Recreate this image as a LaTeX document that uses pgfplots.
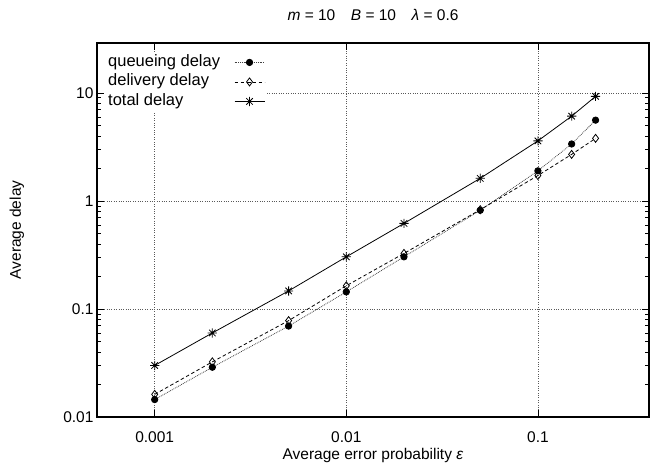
\documentclass[border=0pt]{standalone}
\usepackage{pgfplots}
\pgfplotsset{compat=1.18}
\usepackage{fontspec}
\setmainfont{Liberation Sans}

% gnuplot style point type 3: plus and cross together
\pgfdeclareplotmark{gpstar}{%
  \pgfpathmoveto{\pgfqpoint{0pt}{\pgfplotmarksize}}%
  \pgfpathlineto{\pgfqpoint{0pt}{-\pgfplotmarksize}}%
  \pgfpathmoveto{\pgfqpoint{\pgfplotmarksize}{0pt}}%
  \pgfpathlineto{\pgfqpoint{-\pgfplotmarksize}{0pt}}%
  \pgfpathmoveto{\pgfqpoint{0.7071\pgfplotmarksize}{0.7071\pgfplotmarksize}}%
  \pgfpathlineto{\pgfqpoint{-0.7071\pgfplotmarksize}{-0.7071\pgfplotmarksize}}%
  \pgfpathmoveto{\pgfqpoint{-0.7071\pgfplotmarksize}{0.7071\pgfplotmarksize}}%
  \pgfpathlineto{\pgfqpoint{0.7071\pgfplotmarksize}{-0.7071\pgfplotmarksize}}%
  \pgfusepathqstroke}

\newcommand{\lblfont}{\fontsize{15.5bp}{18bp}\selectfont}
\newcommand{\legfont}{\fontsize{16.5bp}{19bp}\selectfont}

\begin{document}
\begin{tikzpicture}
\useasboundingbox (-97bp,-51bp) rectangle (553bp,417bp);
\begin{axis}[
    at={(0,0)}, anchor=south west,
    scale only axis,
    width=552bp, height=374bp,
    xmode=log, ymode=log,
    xmin=0.0005, xmax=0.38,
    ymin=0.01, ymax=29,
    xtick={0.001,0.01,0.1},
    xticklabels={0.001,0.01,0.1},
    ytick={0.01,0.1,1,10},
    yticklabels={0.01,0.1,1,10},
    xminorticks=false,
    major tick length=7bp,
    minor tick length=4bp,
    every tick/.style={black, line width=0.8bp},
    axis line style={line width=1.2bp},
    /pgf/number format/assume math mode=true,
    xmajorgrids=true, ymajorgrids=true,
    major grid style={black!65, dotted, line width=0.7bp},
    tick label style={font=\lblfont},
    xticklabel style={anchor=center, yshift=-20bp},
    title={\textit{m} = 10\quad\textit{B} = 10\quad\textit{λ} = 0.6},
    title style={at={(axis description cs:0.5,1)}, anchor=center, yshift=22bp,
      font=\lblfont},
    xlabel={Average error probability \textit{ε}},
    xlabel style={at={(axis description cs:0.5,0)}, anchor=center, yshift=-38bp,
      font=\lblfont},
    ylabel={Average delay},
    ylabel style={at={(axis description cs:-0.145,0.5)}, anchor=center, rotate=0,
      font=\lblfont},
    legend plot pos=right,
    legend cell align=left,
    legend style={at={(axis description cs:0.0127,0.976)}, anchor=north west,
      draw=none, fill=white, inner xsep=2bp, inner ysep=1bp, row sep=1bp,
      column sep=12bp,
      font=\legfont,
      nodes={inner sep=2bp, text height=11bp, text depth=3.5bp}},
    legend image code/.code={%
      \draw[mark repeat=2,mark phase=2,#1] plot coordinates {(0bp,0bp) (15bp,0bp) (30bp,0bp)};},
]

\addplot[black!75, line width=0.8bp, densely dotted, mark=*, mark size=3.2bp,
    mark options={solid, fill=black, draw=black}]
    coordinates {
    (0.001,0.0145)(0.002,0.0289)(0.005,0.0695)(0.01,0.144)(0.02,0.304)
    (0.05,0.82)(0.1,1.9)(0.15,3.37)(0.2,5.6)
    };
\addlegendentry{queueing delay}

\addplot[black, line width=0.8bp, dash pattern=on 3.5bp off 2.5bp,
    mark=diamond, mark size=4bp, mark options={solid, fill=white}]
    coordinates {
    (0.001,0.0162)(0.002,0.0324)(0.005,0.078)(0.01,0.164)(0.02,0.327)
    (0.05,0.83)(0.1,1.72)(0.15,2.7)(0.2,3.8)
    };
\addlegendentry{delivery delay}

\addplot[black, line width=0.8bp, solid, mark=gpstar, mark size=4.6bp,
    mark options={solid}]
    coordinates {
    (0.001,0.030)(0.002,0.060)(0.005,0.147)(0.01,0.304)(0.02,0.62)
    (0.05,1.62)(0.1,3.6)(0.15,6.1)(0.2,9.3)
    };
\addlegendentry{total delay}
\end{axis}
\end{tikzpicture}
\end{document}
